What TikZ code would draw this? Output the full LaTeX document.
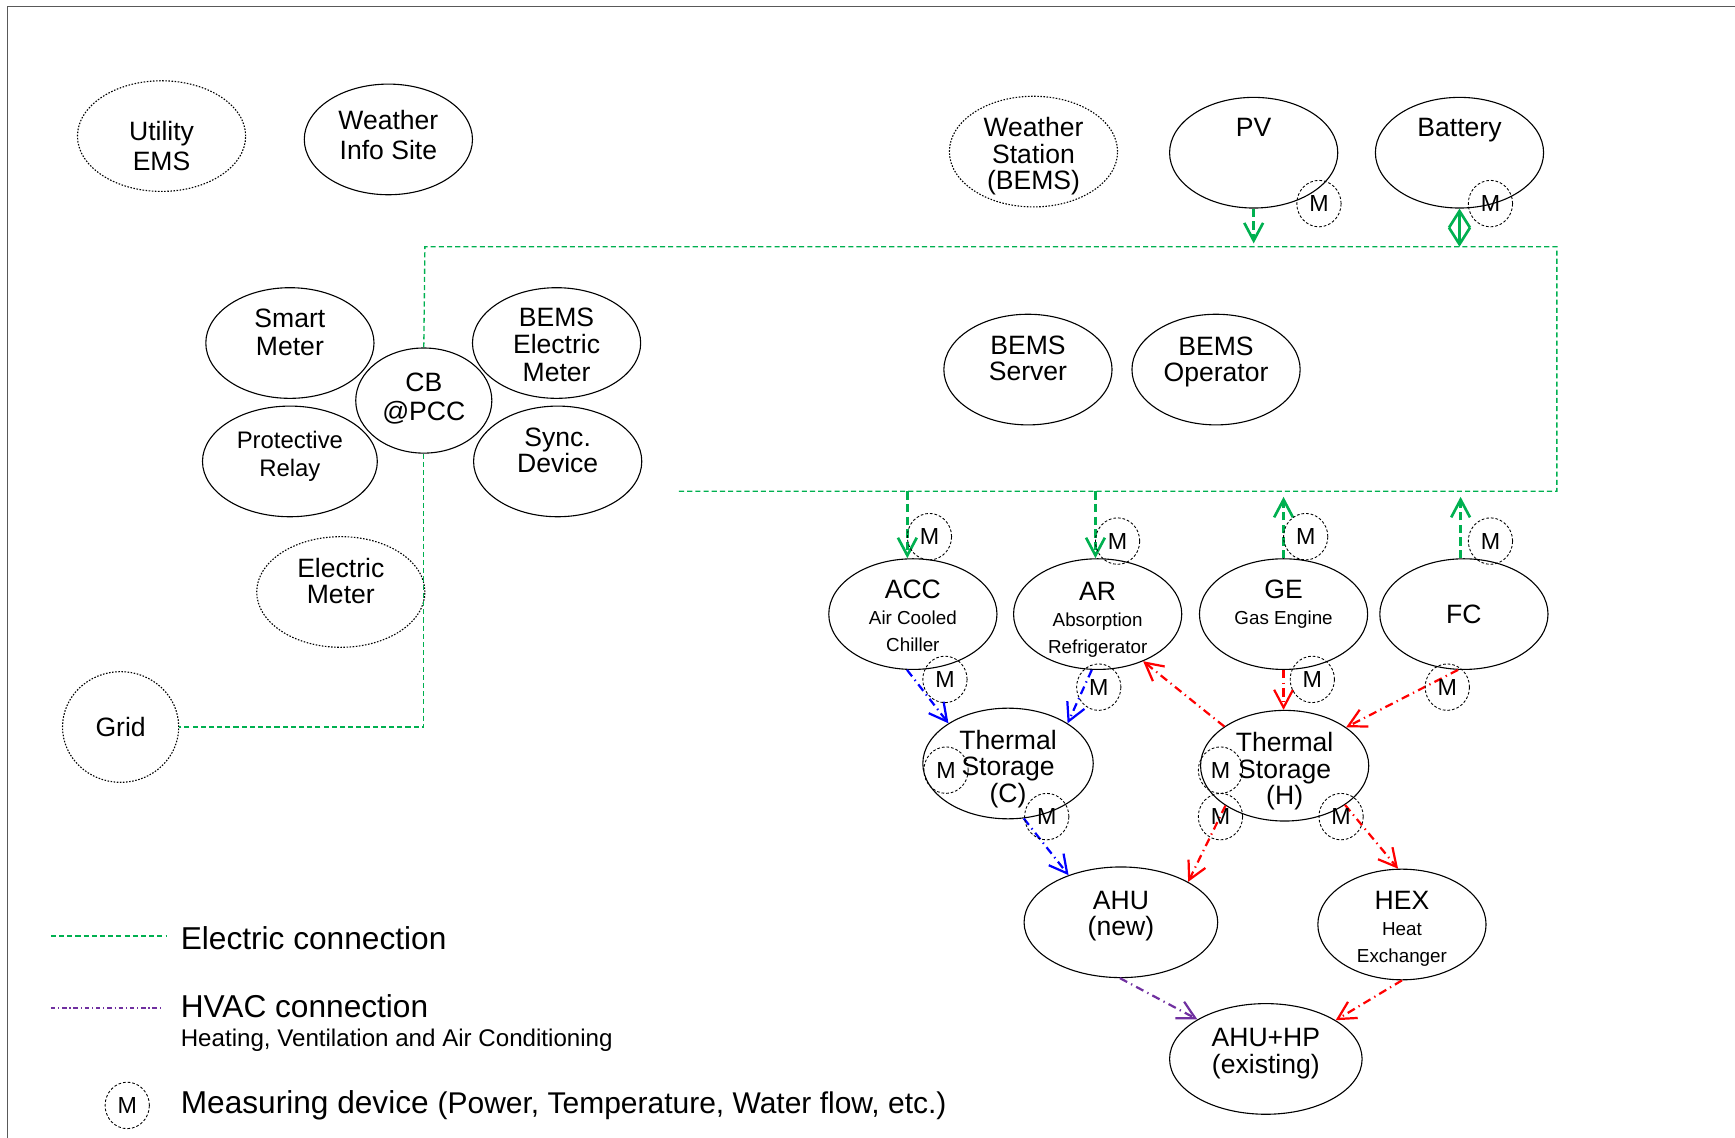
\documentclass[tikz,border=0pt]{standalone}
\usepackage{fontspec}
\setmainfont{Liberation Sans}
\usetikzlibrary{arrows.meta,shapes.geometric}
\definecolor{egreen}{HTML}{00B050}
\definecolor{hpurple}{HTML}{7030A0}
\definecolor{hblue}{HTML}{0000FF}
\definecolor{hred}{HTML}{FF0000}
\newcommand{\fsz}[2]{\fontsize{#1}{#2}\selectfont}
\newcommand{\bigf}{\fsz{12}{12}}
\newcommand{\smf}{\fsz{8.5}{12}}
\begin{document}
\begin{tikzpicture}[x=0.5pt,y=-0.5pt,
  ell/.style={draw, ellipse, line width=0.5pt, inner sep=0pt, minimum width=76pt, minimum height=50pt},
  dotell/.style={ell, dash pattern=on 0.7pt off 0.7pt},
  mc/.style={draw, ellipse, line width=0.4pt, dash pattern=on 1.2pt off 0.9pt, inner sep=0pt,
     minimum width=20pt, minimum height=21pt, font=\fsz{10.5}{10.5}},
  lab/.style={align=center, inner sep=0pt, font=\fsz{12}{#1}},
  lab/.default=12.5,
  bus/.style={egreen, line width=0.6pt, dash pattern=on 2.3pt off 1.4pt},
  garr/.style={egreen, line width=1.2pt, dash pattern=on 3.8pt off 1.9pt,
     -{Straight Barb[length=8pt,width=8.5pt]}},
  harr/.style={line width=1pt, dash pattern=on 3.7pt off 2pt on 0.6pt off 2pt,
     -{Straight Barb[length=8pt,width=8.5pt]}},
  legtxt/.style={anchor=base west, inner sep=0pt}
]
\useasboundingbox (0,0) rectangle (1568,1028);
% frame
\draw[line width=0.6pt, black!65] (7,1040) -- (7,6) -- (1580,6);

% top row
\node[dotell, label={[lab=13.5,yshift=-4.5pt]center:{Utility\\EMS}}] (uems) at (146,123) {};
\node[ell, label={[lab=13.5,yshift=2pt]center:{Weather\\Info Site}}] (wis) at (351,126) {};
\node[dotell, label={[lab=11.9,yshift=-2.2pt]center:{Weather\\Station\\(BEMS)}}] (wst) at (934,137) {};
\node[ell, label={[lab,yshift=11.5pt]center:{PV}}] (pv) at (1133,138) {};
\node[ell, label={[lab,yshift=10.2pt]center:{Battery}}] (bat) at (1319,138) {};

% CB cluster
\node[ell, label={[lab=12.5,yshift=4.8pt]center:{Smart\\Meter}}] (sm) at (262,310) {};
\node[ell, label={[lab=12.3,yshift=-0.8pt]center:{BEMS\\Electric\\Meter}}] (bem) at (503,310) {};
\node[ell, minimum width=61.5pt, minimum height=47.5pt, label={[lab=13.3,yshift=0.8pt]center:{CB\\@PCC}}] (cb) at (383,362) {};
\node[ell, minimum width=79pt, label={[align=center,inner sep=0pt,font=\fsz{10.8}{12.8},yshift=2.2pt]center:{Protective\\Relay}}] (pr) at (262,417) {};
\node[ell, label={[lab=12,yshift=5pt]center:{Sync.\\Device}}] (sd) at (504,417) {};
\node[dotell, label={[lab=12,yshift=5pt]center:{Electric\\Meter}}] (em) at (308,535) {};
\node[dotell, minimum width=52.5pt, label={[lab]center:{Grid}}] (grid) at (109,657) {};

% BEMS
\node[ell, label={[lab=12,yshift=5pt]center:{BEMS\\Server}}] (bsrv) at (929,334) {};
\node[ell, label={[lab=12,yshift=3.5pt]center:{BEMS\\Operator}}] (bop) at (1099,334) {};

% generators
\node[ell, label={[lab=12,yshift=-0.7pt]center:{\bigf ACC\\\smf Air Cooled\\\smf Chiller}}] (acc) at (825,555) {};
\node[ell, label={[lab=12,yshift=-2.5pt]center:{\bigf AR\\\smf Absorption\\\smf Refrigerator}}] (ar) at (992,555) {};
\node[ell, label={[lab=12,yshift=-0.7pt]center:{\bigf GE\\\smf Gas Engine\\\smf\phantom{Chiller}}}] (ge) at (1160,555) {};
\node[ell, label={[lab]center:{FC}}] (fc) at (1323,555) {};

% storages and loads
\node[ell, minimum width=77pt, label={[lab=11.8,yshift=-2.5pt]center:{Thermal\\Storage\\(C)}}] (tsc) at (911,690) {};
\node[ell, label={[lab=12,yshift=-2.5pt]center:{Thermal\\Storage\\(H)}}] (tsh) at (1161,692) {};
\node[ell, minimum width=87.5pt, label={[lab=12,yshift=2.8pt]center:{AHU\\(new)}}] (ahu) at (1013,833.5) {};
\node[ell, label={[lab=12,yshift=-1.8pt]center:{\bigf HEX\\\smf Heat\\\smf Exchanger}}] (hex) at (1267,835.5) {};
\node[ell, minimum width=87pt, label={[lab=12.3,yshift=2.3pt]center:{AHU+HP\\(existing)}}] (ahp) at (1144,957) {};

% electric bus
\coordinate (bTL) at (384,223);
\coordinate (bTR) at (1407,223);
\coordinate (bBR) at (1407,444);
\coordinate (bBL) at (611,444);
\coordinate (bACC) at (820,444);
\coordinate (bAR) at (990,444);
\coordinate (bFC) at (1320,444);
\draw[bus] (cb.north) -- (bTL) -- (bTR) -- (bBR) -- (bBL);
\draw[bus] (cb.south) |- (grid.east);

% electric arrows
\draw[garr, shorten >=1.5pt] (pv.south) -- (pv.south |- bTL);
\draw[egreen, line width=1.2pt, {Straight Barb[length=7.5pt,width=9.5pt]}-{Straight Barb[length=7.5pt,width=9.5pt]}]
  (bat.south) -- (bat.south |- bTL);
\draw[garr] (bACC) -- (bACC |- acc.north);
\draw[garr] (bAR) -- (bAR |- ar.north);
\draw[garr, shorten >=2.5pt] (ge.north) -- (ge.north |- bBR);
\draw[garr, shorten >=2.5pt] (bFC |- fc.north) -- (bFC);

% thermal arrows
\draw[harr, hblue] (acc.-96) -- (tsc.146);
\draw[harr, hblue] (ar.-96) -- (tsc.34);
\draw[harr, hblue] (tsc.-74) -- (ahu.138);
\draw[harr, hred] (tsh.147) -- (ar.-46);
\draw[harr, hred] (ge.south) -- (ge.south |- tsh.north);
\draw[harr, hred] (fc.-96) -- (tsh.32);
\draw[harr, hred] (tsh.-146) -- (ahu.31);
\draw[harr, hred] (tsh.-33) -- (hex.94);
\draw[harr, hred] (hex.south) -- (ahp.29);
\draw[harr, hpurple] (ahu.-91) -- (ahp.150);

% measuring devices
\node[mc] (mpv) at (1192,184) {M};
\node[mc] (mbat) at (1347,184) {M};
\node[mc] (maccT) at (840,485) {M};
\node[mc] (marT) at (1010,489) {M};
\node[mc] (mgeT) at (1180,485) {M};
\node[mc] (mfcT) at (1347,489) {M};
\node[mc] (maccB) at (854,614) {M};
\node[mc] (marB) at (993,621) {M};
\node[mc] (mgeB) at (1186,614) {M};
\node[mc] (mfcB) at (1308,621) {M};
\node[mc] (mtscL) at (855,696) {M};
\node[mc] (mtscB) at (946,738) {M};
\node[mc] (mtshL) at (1103,696) {M};
\node[mc] (mtshBL) at (1103,738) {M};
\node[mc] (mtshBR) at (1212,738) {M};

% legend
\coordinate (lgA1) at (46,846);
\coordinate (lgA2) at (150,846);
\coordinate (lgB1) at (46,911);
\coordinate (lgB2) at (146,911);
\draw[bus] (lgA1) -- (lgA2);
\draw[hpurple, line width=0.6pt, dash pattern=on 2pt off 1.3pt on 0.5pt off 1.3pt] (lgB1) -- (lgB2);
\node[legtxt, font=\fsz{14.3}{16}] (lt1) at (163,858) {Electric connection};
\node[legtxt, font=\fsz{14.3}{16}] (lt2) at (163,920) {HVAC connection};
\node[legtxt, font=\fsz{10.9}{13}] (lt3) at (163,946) {Heating, Ventilation and Air Conditioning};
\node[mc] (mleg) at (115,999) {M};
\node[legtxt] (lt4) at (163,1006) {\fsz{14.3}{16}Measuring device \fsz{13.55}{16}(Power, Temperature, Water flow, etc.)};
\end{tikzpicture}
\end{document}
